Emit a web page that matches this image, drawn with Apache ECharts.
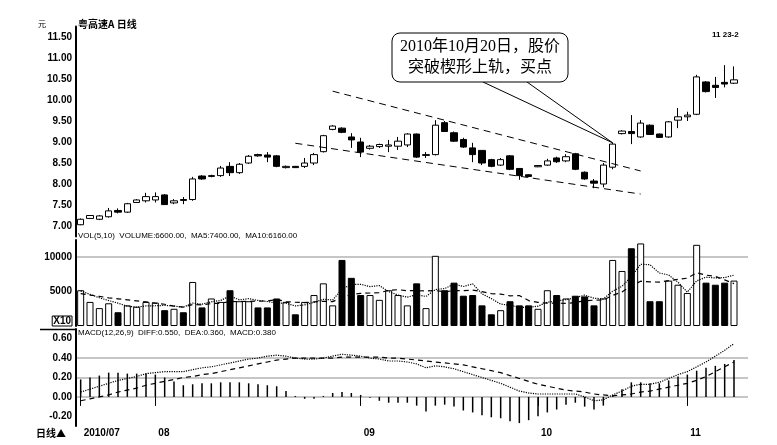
<!DOCTYPE html>
<html><head><meta charset="utf-8">
<script src="https://cdn.jsdelivr.net/npm/echarts@6/dist/echarts.min.js"></script>
<style>html,body{margin:0;padding:0;background:#fff}#c{width:777px;height:445px}</style>
</head><body><div id="c"></div>
<script>
// ---- data ----
const dates = [
 '2010-07-21','2010-07-22','2010-07-23','2010-07-26','2010-07-27','2010-07-28','2010-07-29','2010-07-30',
 '2010-08-02','2010-08-03','2010-08-04','2010-08-05','2010-08-06','2010-08-09','2010-08-10','2010-08-11','2010-08-12','2010-08-13',
 '2010-08-16','2010-08-17','2010-08-18','2010-08-19','2010-08-20','2010-08-23','2010-08-24','2010-08-25','2010-08-26','2010-08-27','2010-08-30','2010-08-31',
 '2010-09-01','2010-09-02','2010-09-03','2010-09-06','2010-09-07','2010-09-08','2010-09-09','2010-09-10','2010-09-13','2010-09-14',
 '2010-09-15','2010-09-16','2010-09-17','2010-09-20','2010-09-21','2010-09-27','2010-09-28','2010-09-29','2010-09-30',
 '2010-10-08','2010-10-11','2010-10-12','2010-10-13','2010-10-14','2010-10-15','2010-10-18','2010-10-19','2010-10-20','2010-10-21',
 '2010-10-22','2010-10-25','2010-10-26','2010-10-27','2010-10-28','2010-10-29',
 '2010-11-01','2010-11-02','2010-11-03','2010-11-04','2010-11-05','2010-11-08'
];
const opens  = [7.03,7.18,7.16,7.22,7.37,7.33,7.56,7.60,7.62,7.74, 7.55,7.63,7.63,8.19,8.18,8.20,8.42,8.27,8.50,8.70,
 8.69,8.67,8.39,8.42,8.42,8.50,8.77,9.30,9.33,9.12, 9.00,8.85,8.89,8.90,8.90,8.93,9.19,8.68,8.70,9.46,
 9.22,9.06,8.86,8.80,8.58,8.45,8.67,8.37,8.22,8.41, 8.45,8.62,8.55,8.72,8.28,8.07,8.00,8.40,9.20,9.25,
 9.12,9.40,9.19,9.12,9.52,9.60,9.66,10.43,10.35,10.42, 10.40];
const closes = [7.16,7.25,7.24,7.36,7.33,7.53,7.62,7.70,7.70,7.51, 7.60,7.61,8.12,8.12,8.20,8.38,8.27,8.47,8.66,8.67,
 8.64,8.42,8.42,8.39,8.50,8.70,9.15,9.38,9.23,9.05, 8.76,8.90,8.94,8.93,9.02,9.19,8.64,8.70,9.40,9.25,
 9.02,8.88,8.70,8.50,8.42,8.58,8.35,8.20,8.18,8.44, 8.55,8.53,8.65,8.35,8.12,8.02,8.45,8.95,9.26,9.20,
 9.45,9.18,9.11,9.48,9.60,9.64,10.55,10.20,10.30,10.38, 10.48];
const lows   = [7.02,7.17,7.14,7.20,7.30,7.31,7.55,7.56,7.56,7.50, 7.52,7.52,7.60,8.10,8.16,8.17,8.19,8.24,8.48,8.65,
 8.52,8.40,8.37,8.38,8.38,8.45,8.75,9.28,9.21,8.86, 8.64,8.82,8.86,8.76,8.81,8.88,8.62,8.62,8.68,9.24,
 9.00,8.86,8.52,8.45,8.40,8.43,8.33,8.10,8.16,8.40, 8.43,8.50,8.52,8.33,8.10,7.90,7.92,8.35,9.18,8.95,
 9.10,9.17,9.10,9.10,9.33,9.50,9.64,10.18,10.05,10.30, 10.38];
const highs  = [7.18,7.26,7.26,7.43,7.42,7.55,7.64,7.79,7.80,7.76, 7.64,7.69,8.17,8.21,8.22,8.43,8.52,8.50,8.69,8.72,
 8.76,8.69,8.44,8.43,8.62,8.74,9.17,9.40,9.35,9.21, 9.10,8.93,8.96,9.05,9.12,9.21,9.20,8.76,9.52,9.50,
 9.25,9.10,8.98,8.80,8.60,8.62,8.69,8.38,8.23,8.45, 8.60,8.65,8.71,8.74,8.30,8.12,8.50,8.98,9.28,9.64,
 9.52,9.42,9.20,9.50,9.81,9.72,10.60,10.45,10.55,10.83, 10.80];
const volumes = [5200,3500,2600,3300,2000,3000,2800,3500,3400,2300, 2500,2000,6400,2700,4000,3500,5200,3600,3600,2700,
 2700,4000,3500,1700,3500,4500,6200,3000,9600,7000, 4500,4500,3800,5200,4500,3000,6200,2600,10200,5200,
 6300,4400,4500,3000,1700,2300,3600,3000,3000,2500, 5200,4500,4000,4400,4300,3000,4000,9600,8000,11300,
 12000,3600,3600,6600,6000,4800,11800,6300,6000,6300, 6600];
const volMA5 = [5100,4600,4100,3700,3320,2880,2740,2920,2940,3000, 2900,2740,3320,3180,3520,3720,4360,3800,3980,3720,
 3560,3320,3300,2920,3080,3440,3880,3780,5360,6060, 6060,5720,5880,5000,4500,4200,4540,4300,5300,5440,
 6100,5740,6120,4680,3980,3180,3020,2720,2720,2880, 3460,3640,3840,4120,4480,4040,3940,5060,5780,7180,
 8980,8900,7700,7420,6360,4920,6560,7100,6980,7040, 7400];
const volMA10 = [4700,4500,4300,4100,3950,3800,3650,3500,3320,3160, 2890,2740,3120,3060,3260,3310,3550,3560,3580,3620,
 3640,3840,3550,3450,3400,3500,3600,3540,4140,4570, 4750,4800,4830,5180,5280,5130,5130,5090,5150,4970,
 5150,5140,5210,4990,4710,4640,4380,4420,3700,3430, 3320,3330,3280,3420,3680,3750,3790,4450,4950,5830,
 6510,6420,6380,6600,6770,6950,7730,7400,7200,6700, 6160];
const diff = [0.05,0.08,0.11,0.14,0.17,0.19,0.21,0.24,0.25,0.26, 0.26,0.26,0.28,0.30,0.31,0.33,0.35,0.37,0.39,0.40,
 0.42,0.43,0.42,0.40,0.39,0.39,0.40,0.42,0.44,0.43, 0.42,0.40,0.39,0.37,0.37,0.36,0.34,0.30,0.32,0.31,
 0.29,0.26,0.23,0.20,0.17,0.14,0.10,0.06,0.04,0.03, 0.03,0.03,0.03,0.03,0.00,-0.04,-0.03,0.02,0.06,0.11,
 0.13,0.13,0.15,0.19,0.23,0.26,0.31,0.36,0.42,0.48, 0.55];
const dea = [-0.04,-0.02,0.00,0.02,0.05,0.07,0.09,0.12,0.14,0.16, 0.18,0.20,0.21,0.23,0.24,0.26,0.28,0.30,0.32,0.34,
 0.36,0.38,0.39,0.40,0.40,0.40,0.40,0.40,0.41,0.41, 0.41,0.41,0.41,0.40,0.40,0.39,0.38,0.37,0.36,0.35,
 0.34,0.33,0.31,0.29,0.27,0.25,0.22,0.19,0.16,0.13, 0.11,0.09,0.07,0.06,0.05,0.03,0.02,0.01,0.02,0.03,
 0.05,0.06,0.08,0.10,0.12,0.14,0.17,0.21,0.26,0.31, 0.36];
const macd = [0.18,0.20,0.22,0.25,0.25,0.24,0.24,0.24,0.23,0.20, 0.16,0.12,0.13,0.14,0.14,0.15,0.15,0.15,0.14,0.13,
 0.12,0.11,0.06,0.01,-0.02,-0.02,0.01,0.04,0.05,0.04, 0.02,-0.01,-0.04,-0.06,-0.06,-0.06,-0.09,-0.15,-0.09,-0.08,
 -0.10,-0.14,-0.16,-0.19,-0.21,-0.22,-0.25,-0.27,-0.24,-0.20, -0.16,-0.13,-0.08,-0.06,-0.10,-0.13,-0.09,0.02,0.08,0.15,
 0.15,0.14,0.14,0.17,0.21,0.23,0.27,0.30,0.32,0.34, 0.38];
// wedge trend lines: [category index, price]
const wedgeUpper = [[27,10.21],[60,8.31]];
const wedgeLower = [[23,8.97],[60,7.76]];
const breakoutIndex = 57;
// x-axis tick labels (first trading day of each month)
const monthLabels = {'2010-07-21':'2010/07','2010-08-02':'08','2010-09-01':'09','2010-10-08':'10','2010-11-01':'11'};
const priceLabelStep = 0.5;
const volLabels = {0:'X10',5000:'5000',10000:'10000'};
const macdLabelStep = 0.2;

// ---- chart ----
const chart = echarts.init(document.getElementById('c'));
const T = 'rgba(0,0,0,0)', G = '#c6c6c6';
const lbl = {fontFamily:'"Liberation Sans", Arial, sans-serif', fontWeight:'bold', fontSize:10, color:'#000'};
const candleData = dates.map((d,i)=>[opens[i],closes[i],lows[i],highs[i]]);
const volData = volumes.map((v,i)=>({value:v, itemStyle: closes[i]<opens[i]
  ? {color:'#000', borderColor:'#000', borderWidth:1}
  : {color:'#fff', borderColor:'#000', borderWidth:1}}));
const isMonth = (idx, val) => monthLabels[val] !== undefined;
const xAxes = [0,1,2].map(k=>({
  type:'category', gridIndex:k, data:dates, max:dates.length, boundaryGap:true,
  axisLine:{show:false},
  axisTick:{show:k===2, interval:isMonth, alignWithLabel:true, length:9, lineStyle:{color:'#000', width:1}},
  axisLabel:{show:k===2, interval:isMonth, formatter:v=>monthLabels[v]||'', align:'left', margin:2, ...lbl, padding:[0,0,0,3]},
  splitLine:{show:false}
}));
const yLine = {show:true, lineStyle:{color:'#000', width:2}};
const option = {
  animation:false, backgroundColor:'#fff',
  grid:[
    {left:76, top:26.5, width:672, height:210},
    {left:76, top:240, width:672, height:86},
    {left:76, top:329, width:672, height:97}
  ],
  xAxis:xAxes,
  yAxis:[
    {gridIndex:0, min:6.75, max:11.75, interval:0.25, axisLine:yLine, axisTick:{show:false}, splitLine:{show:false},
     axisLabel:{...lbl, margin:4, formatter:v=>Math.abs(v/priceLabelStep-Math.round(v/priceLabelStep))<1e-6 ? v.toFixed(2) : ''}},
    {gridIndex:1, min:0, max:12500, interval:2500, axisLine:yLine, axisTick:{show:false},
     splitLine:{show:true, lineStyle:{color:[T,T,T,T,G,T], width:2}},
     axisLabel:{...lbl, margin:4, formatter:v=> v===0 ? '{b|X10}\n{s| }' : (volLabels[v]||''),
       rich:{b:{...lbl, borderColor:'#000', borderWidth:1, padding:[0,1,0,1], lineHeight:11}, s:{fontSize:6, lineHeight:10}}}},
    {gridIndex:2, min:-0.3, max:0.7, interval:0.1, axisLine:yLine, axisTick:{show:false},
     splitLine:{show:true, lineStyle:{color:[T,T,T,G,T,G,T,G,T,T,T], width:2}},
     axisLabel:{...lbl, margin:4, formatter:v=>{const r=v/macdLabelStep; return Math.abs(r-Math.round(r))<1e-6 && v<0.65 ? v.toFixed(2) : '';}}}
  ],
  series:[
    {type:'candlestick', xAxisIndex:0, yAxisIndex:0, data:candleData, barWidth:7,
     itemStyle:{color:'#fff', color0:'#000', borderColor:'#000', borderColor0:'#000', borderWidth:1},
     markLine:{silent:true, symbol:['none','none'], label:{show:false}, emphasis:{disabled:true},
       lineStyle:{color:'#000', type:[7,5], width:1},
       data:[[{coord:[wedgeUpper[0][0],wedgeUpper[0][1]]},{coord:[wedgeUpper[1][0],wedgeUpper[1][1]]}],
             [{coord:[wedgeLower[0][0],wedgeLower[0][1]]},{coord:[wedgeLower[1][0],wedgeLower[1][1]]}]]}},
    {type:'bar', xAxisIndex:1, yAxisIndex:1, data:volData, barWidth:7},
    {type:'line', xAxisIndex:1, yAxisIndex:1, data:volMA5, symbol:'none', z:3, lineStyle:{color:'#000', width:1.2, type:'dotted'}},
    {type:'line', xAxisIndex:1, yAxisIndex:1, data:volMA10, symbol:'none', z:3, lineStyle:{color:'#000', width:1.2, type:[5,4]}},
    {type:'bar', xAxisIndex:2, yAxisIndex:2, data:macd, barWidth:1.5, itemStyle:{color:'#000'}},
    {type:'line', xAxisIndex:2, yAxisIndex:2, data:diff, symbol:'none', z:3, lineStyle:{color:'#000', width:1.2, type:'dotted'}},
    {type:'line', xAxisIndex:2, yAxisIndex:2, data:dea, symbol:'none', z:3, lineStyle:{color:'#000', width:1.2, type:[5,4]}}
  ]
};
chart.setOption(option);

const tip = chart.convertToPixel({gridIndex:0}, [breakoutIndex, highs[breakoutIndex]]);
const small = '8px "Liberation Sans", Arial, sans-serif';
chart.setOption({graphic:[
  {type:'text', left:78, top:19, style:{text:'粤高速A 日线', font:'bold 10px "Noto Sans CJK SC", sans-serif', fill:'#000'}},
  {type:'text', left:38, top:20, style:{text:'元', font:'8px "Noto Sans CJK SC", sans-serif', fill:'#000'}},
  {type:'text', left:712, top:31, style:{text:'11 23-2', font:'bold 8px "Liberation Sans", Arial', fill:'#000'}},
  {type:'text', left:78, top:232, style:{text:'VOL(5,10)  VOLUME:6600.00,  MA5:7400.00,  MA10:6160.00', font:small, fill:'#000'}},
  {type:'text', left:78, top:329, style:{text:'MACD(12,26,9)  DIFF:0.550,  DEA:0.360,  MACD:0.380', font:small, fill:'#000'}},
  {type:'text', left:36, top:428, style:{text:'日线▲', font:'bold 10px "Noto Sans CJK SC", sans-serif', fill:'#000'}},
  {type:'line', shape:{x1:40, y1:329.5, x2:76, y2:329.5}, style:{stroke:'#000', lineWidth:1.5}},
  {type:'polyline', shape:{points:[[483,82],[tip[0],tip[1]],[527,82]]}, style:{stroke:'#000', fill:null, lineWidth:1}, z:10},
  {type:'rect', shape:{x:392, y:33, width:176, height:49, r:8}, style:{fill:'#fff', stroke:'#000', lineWidth:1}, z:11},
  {type:'text', x:480, y:57.5, z:12, style:{text:'2010年10月20日，股价\n突破楔形上轨，买点', align:'center', verticalAlign:'middle',
     font:'16px "Liberation Serif", "Noto Sans CJK SC", serif', lineHeight:21, fill:'#000'}}
]});
</script></body></html>
